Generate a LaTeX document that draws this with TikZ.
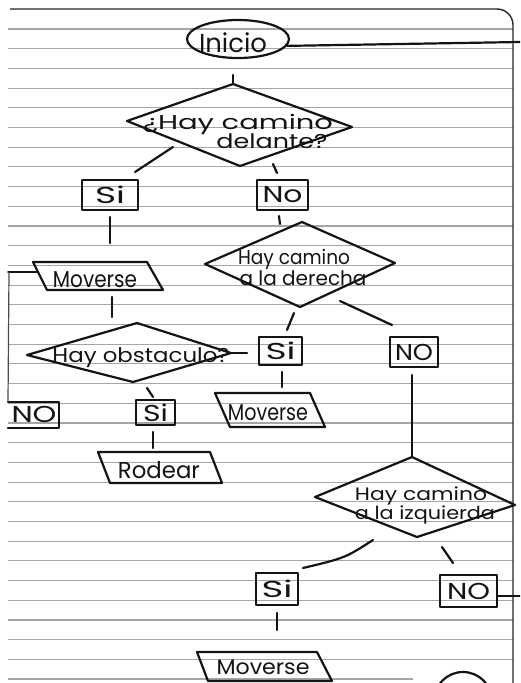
\documentclass[tikz,border=0pt]{standalone}
\usepackage{fontspec}
\setmainfont{Poppins}
\usepackage{graphicx}
\usetikzlibrary{shapes.geometric}
\newcommand\hw[2]{\resizebox{#1pt}{\height}{#2}}
\tikzset{
  ink/.style={line width=2.2pt, black!92, line join=round, line cap=round},
  thinink/.style={line width=1.2pt, black!70},
  rule/.style={line width=1.1pt, gray!70},
  lbl/.style={anchor=base, inner sep=0pt, font=\fontsize{23}{23}\selectfont, text=black!92},
  smalllbl/.style={lbl, font=\fontsize{20}{20}\selectfont},
  boxnode/.style={draw, ink, rectangle, inner sep=0pt, font=\fontsize{23}{23}\selectfont, text=black!92},
}
\begin{document}
\begin{tikzpicture}[x=1pt,y=-1pt]
\useasboundingbox (0,0) rectangle (520,683);
\clip (0,0) rectangle (520,683);
\fill[white] (0,0) rectangle (520,683);
% ruled paper
\foreach \k in {0,...,32} \draw[rule] (8,{29+19.7*\k}) -- (513,{29+19.7*\k});
\draw[rule] (8,679) -- (413,679);
\draw[line width=1.4pt, black!85, rounded corners=16pt] (10,9) -- (513,9) -- (513,700);

% Inicio
\node[draw, ink, ellipse, minimum width=102, minimum height=38, inner sep=0pt] (ini) at (238,39) {};
\node[lbl, font=\fontsize{26}{26}\selectfont] (iniT) at (233,52) {\hw{68}{Inicio}};
\coordinate (iniR) at (520,42);
\draw[ink] (ini.-8) -- (iniR);

% diamond 1
\coordinate (d1t) at (233,84);
\coordinate (d1r) at (352,127);
\coordinate (d1b) at (240,166);
\coordinate (d1l) at (127,121);
\draw[ink] (d1t) -- (d1r) -- (d1b) -- (d1l) -- cycle;
\node[smalllbl] (d1a) at (238,129) {\hw{190}{¿Hay camino}};
\node[smalllbl] (d1c) at (272,148) {\hw{111}{delante?}};
\coordinate (c1) at (233,75);
\draw[ink] (c1) -- (d1t);

% Si / No under diamond 1
\node[boxnode, minimum width=56, minimum height=30] (si1) at (110,195) {\hw{30}{Si}};
\node[boxnode, minimum width=51, minimum height=30] (no1) at (282.5,195) {\hw{40}{No}};
\coordinate (d1sA) at (173,147); \coordinate (si1A) at (135,172);
\draw[ink] (d1sA) -- (si1A);
\coordinate (d1nA) at (273,164); \coordinate (no1A) at (277,173);
\draw[ink] (d1nA) -- (no1A);

% Moverse 1
\coordinate (m1a) at (33,262); \coordinate (m1b) at (147,262);
\coordinate (m1c) at (163,290); \coordinate (m1d) at (47,290);
\draw[ink] (m1a) -- (m1b) -- (m1c) -- (m1d) -- cycle;
\node[lbl] (m1T) at (95,287) {\hw{84}{Moverse}};
\coordinate (si1B) at (110,217); \coordinate (m1top) at (110,243);
\draw[ink] (si1B) -- (m1top);

% diamond 2
\coordinate (d2t) at (302,222);
\coordinate (d2r) at (395,263);
\coordinate (d2b) at (300,307);
\coordinate (d2l) at (205,264);
\draw[ink] (d2t) -- (d2r) -- (d2b) -- (d2l) -- cycle;
\node[smalllbl] (d2a) at (294,264) {\hw{112}{Hay camino}};
\node[smalllbl] (d2c) at (303,285) {\hw{127}{a la derecha}};
\coordinate (no1B) at (279,216); \coordinate (d2in) at (280,224);
\draw[ink] (no1B) -- (d2in);

% Si / NO under diamond 2
\node[boxnode, minimum width=43, minimum height=28] (si2) at (280.5,351) {\hw{30}{Si}};
\node[boxnode, minimum width=48, minimum height=30] (no2) at (414,352) {\hw{38}{NO}};
\coordinate (d2sA) at (294,313); \coordinate (si2A) at (287,330);
\draw[ink] (d2sA) -- (si2A);
\coordinate (d2nA) at (340,301); \coordinate (no2A) at (392,325);
\draw[ink] (d2nA) -- (no2A);

% Moverse 2
\coordinate (m2a) at (215,393); \coordinate (m2b) at (310,393);
\coordinate (m2c) at (325,427); \coordinate (m2d) at (230,427);
\draw[ink] (m2a) -- (m2b) -- (m2c) -- (m2d) -- cycle;
\node[lbl] (m2T) at (268,420) {\hw{80}{Moverse}};
\coordinate (si2B) at (282,372); \coordinate (m2top) at (282,387);
\draw[ink] (si2B) -- (m2top);

% diamond 3
\coordinate (d3t) at (137,323);
\coordinate (d3r) at (231,353);
\coordinate (d3b) at (133,382);
\coordinate (d3l) at (27,355);
\draw[ink] (d3t) -- (d3r) -- (d3b) -- (d3l) -- cycle;
\node[smalllbl] (d3a) at (141,362) {\hw{177}{Hay obstaculo?}};
\coordinate (m1B) at (112,297); \coordinate (d3in) at (112,317);
\draw[ink] (m1B) -- (d3in);
\coordinate (d3rx) at (247,353);
\draw[ink] (d3r) -- (d3rx);

% Si / NO under diamond 3
\node[boxnode, minimum width=39, minimum height=25] (si3) at (155.5,412.5) {\hw{25}{Si}};
\coordinate (no3a) at (8,402); \coordinate (no3b) at (59,402);
\coordinate (no3c) at (59,428); \coordinate (no3d) at (8,428);
\draw[ink] (no3a) -- (no3b) -- (no3c) -- (no3d);
\node[lbl] (no3T) at (34,422) {\hw{45}{NO}};
\coordinate (d3sA) at (147,388); \coordinate (si3A) at (153,397);
\draw[ink] (d3sA) -- (si3A);
% loop back from NO to Moverse
\coordinate (m1L) at (38,272); \coordinate (lpA) at (8,272); \coordinate (lpB) at (9,272);
\draw[ink, line width=1.6pt] (lpA) -- (m1L);
\draw[thinink] (lpB) -- (no3a);

% Rodear
\coordinate (ra) at (98,452); \coordinate (rb) at (210,452);
\coordinate (rc) at (222,483); \coordinate (rd) at (110,483);
\draw[ink] (ra) -- (rb) -- (rc) -- (rd) -- cycle;
\node[lbl] (rT) at (159,478) {\hw{82}{Rodear}};
\coordinate (si3B) at (153,432); \coordinate (rtop) at (153,448);
\draw[ink] (si3B) -- (rtop);

% diamond 4
\coordinate (d4t) at (412,457);
\coordinate (d4r) at (515,505);
\coordinate (d4b) at (417,537);
\coordinate (d4l) at (315,497);
\draw[ink] (d4t) -- (d4r) -- (d4b) -- (d4l) -- cycle;
\node[smalllbl, font=\fontsize{18}{18}\selectfont] (d4a) at (421,500) {\hw{132}{Hay camino}};
\node[smalllbl, font=\fontsize{18}{18}\selectfont] (d4c) at (425,519) {\hw{140}{a la izquierda}};
\coordinate (no2B) at (412,375);
\draw[ink] (no2B) -- (d4t);

% Si / NO under diamond 4
\node[boxnode, minimum width=42, minimum height=32] (si4) at (277,589) {\hw{31}{Si}};
\node[boxnode, minimum width=57, minimum height=32] (no4) at (468.5,591) {\hw{43}{NO}};
\coordinate (d4sA) at (373,540); \coordinate (si4A) at (303,568);
\draw[ink] (d4sA) .. controls (345,558) .. (si4A);
\coordinate (d4nA) at (442,547); \coordinate (no4A) at (453,563);
\draw[ink] (d4nA) -- (no4A);
\coordinate (no4R) at (520,596);
\draw[ink] (no4.east |- no4R) -- (no4R);

% Moverse 4
\coordinate (m4a) at (197,652); \coordinate (m4b) at (317,652);
\coordinate (m4c) at (332,681); \coordinate (m4d) at (208,681);
\draw[ink] (m4a) -- (m4b) -- (m4c) -- (m4d) -- cycle;
\node[lbl, font=\fontsize{21}{21}\selectfont] (m4T) at (263,674) {\hw{93}{Moverse}};
\coordinate (si4B) at (277,613); \coordinate (m4top) at (277,630);
\draw[ink] (si4B) -- (m4top);

% end circle (cut off)
\node[draw, ink, circle, minimum size=58, inner sep=0pt] (fin) at (463,701) {};
\end{tikzpicture}
\end{document}
